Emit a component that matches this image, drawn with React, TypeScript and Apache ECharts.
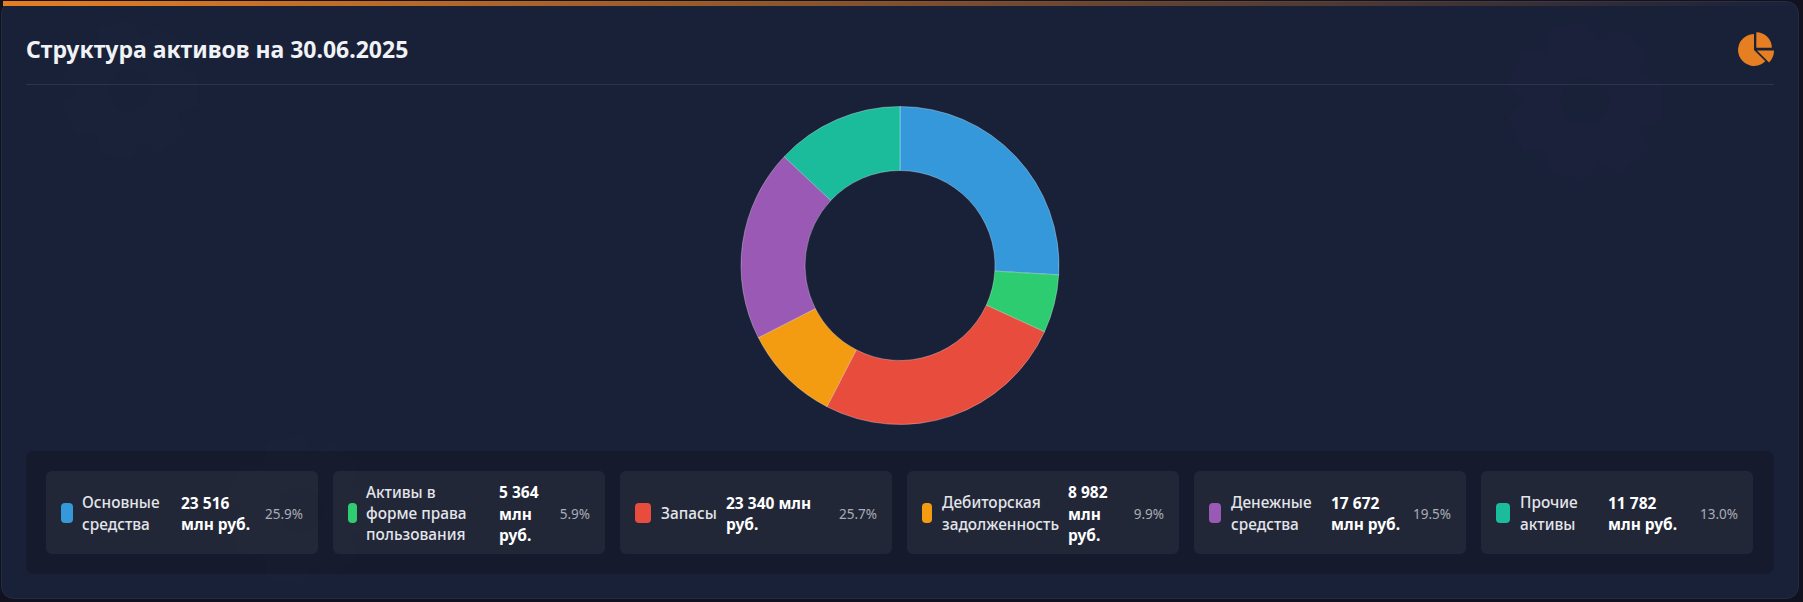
import React, { useEffect, useRef } from "react";
import * as echarts from "echarts";

const title = "Структура активов на 30.06.2025";
const categories = ["Основные средства", "Активы в форме права пользования", "Запасы", "Дебиторская задолженность", "Денежные средства", "Прочие активы"];
const values = [23516, 5364, 23340, 8982, 17672, 11782];
const colors = ["#3498db", "#2ecc71", "#e74c3c", "#f39c12", "#9b59b6", "#1abc9c"];
const labelLines = [["Основные", "средства"], ["Активы в", "форме права", "пользования"], ["Запасы"], ["Дебиторская", "задолженность"], ["Денежные", "средства"], ["Прочие", "активы"]];
const valueLines = [["23 516", "млн руб."], ["5 364", "млн", "руб."], ["23 340 млн", "руб."], ["8 982", "млн", "руб."], ["17 672", "млн руб."], ["11 782", "млн руб."]];
const percents = ["25.9%", "5.9%", "25.7%", "9.9%", "19.5%", "13.0%"];
const cardX = [46, 333, 620, 907, 1194, 1481];
const markerW = [12, 9, 16, 10, 12, 14];
const labelX = [82, 366, 661, 942, 1231, 1520];
const valueX = [181, 499, 726, 1068, 1331, 1608];
const pctX = [303, 590, 877, 1164, 1451, 1738];

const FONT = '"Noto Sans", "Open Sans", sans-serif';

const gearPath = (() => {
  const teeth = 7, ro = 100, ri = 76, hole = 30;
  let d = "";
  for (let i = 0; i < teeth; i++) {
    const a = (i / teeth) * Math.PI * 2;
    const s = (Math.PI * 2) / teeth;
    const pts: [number, number][] = [
      [ri, a - s * 0.5], [ro, a - s * 0.27], [ro, a + s * 0.27], [ri, a + s * 0.5],
    ];
    pts.forEach(([r, t], j) => {
      const x = 100 + r * Math.cos(t), y = 100 + r * Math.sin(t);
      d += `${i === 0 && j === 0 ? "M" : "L"}${x.toFixed(1)} ${y.toFixed(1)} `;
    });
  }
  d += `Z M${100 + hole} 100 A${hole} ${hole} 0 1 0 ${100 - hole} 100 A${hole} ${hole} 0 1 0 ${100 + hole} 100 Z`;
  return d;
})();
echarts.graphic.registerShape("gearMark", (echarts.graphic as any).extendPath(gearPath, {}));

export default function App() {
  const ref = useRef<HTMLDivElement>(null);
  useEffect(() => {
    const chart = echarts.init(ref.current!, undefined, { renderer: "svg" });
    const g: any[] = [];
    g.push({ type: "rect", z: 0, shape: { x: 0, y: 0, width: 1803, height: 602 }, style: { fill: "#12121f" } });
    g.push({ type: "rect", z: 1, shape: { x: 1.5, y: 1.5, width: 1797, height: 597, r: 12 }, style: { fill: "#192139", stroke: "#232c47", lineWidth: 1 } });
    g.push({ type: "gearMark", z: 2, x: 1505, y: 21, scaleX: 0.8, scaleY: 0.8, style: { fill: "#1b213a" } });
    g.push({ type: "gearMark", z: 2, x: 60, y: 20, scaleX: 0.7, scaleY: 0.7, style: { fill: "#192239" } });
    g.push({
      type: "rect", z: 3, shape: { x: 3, y: 1, width: 1796, height: 5 },
      style: { fill: new echarts.graphic.LinearGradient(0, 0, 1, 0, [{ offset: 0, color: "#e67e22" }, { offset: 1, color: "rgba(230,126,34,0)" }]) },
    });
    g.push({ type: "rect", z: 3, shape: { x: 26, y: 84, width: 1748, height: 1 }, style: { fill: "#2d3549" } });
    g.push({ type: "rect", z: 3, shape: { x: 26, y: 451, width: 1748, height: 123, r: 8 }, style: { fill: "#151a2d" } });
    categories.forEach((_, i) => {
      const x = cardX[i];
      g.push({ type: "rect", z: 4, shape: { x, y: 471, width: 272, height: 83, r: 6 }, style: { fill: "#222738" } });
      const mx = x + 15;
      g.push({ type: "rect", z: 5, shape: { x: mx, y: 503, width: markerW[i], height: 20, r: 4 }, style: { fill: colors[i] } });
      const lh = 21.3, cy = 513.5;
      labelLines[i].forEach((t, j) => {
        g.push({ type: "text", z: 6, x: labelX[i], y: cy + (j - (labelLines[i].length - 1) / 2) * lh,
          style: { text: t, font: `500 15.4px ${FONT}`, fill: "#e2e5ea", verticalAlign: "middle", align: "left" } });
      });
      valueLines[i].forEach((t, j) => {
        g.push({ type: "text", z: 6, x: valueX[i], y: cy + (j - (valueLines[i].length - 1) / 2) * lh,
          style: { text: t, font: `700 15.5px ${FONT}`, fill: "#ffffff", verticalAlign: "middle", align: "left" } });
      });
      g.push({ type: "text", z: 6, x: pctX[i], y: cy,
        style: { text: percents[i], font: `400 13.5px ${FONT}`, fill: "#a9adb6", verticalAlign: "middle", align: "right" } });
    });
    g.push({ type: "gearMark", z: 5, x: 225, y: 435, scaleX: 0.75, scaleY: 0.75, style: { fill: "rgba(255,255,255,0.008)" } });
    // header icon
    g.push({ type: "sector", z: 5, shape: { cx: 1754, cy: 50, r: 16, r0: 0, startAngle: Math.PI / 4, endAngle: -Math.PI / 2, clockwise: true }, style: { fill: "#e67e22" } });
    g.push({ type: "sector", z: 5, shape: { cx: 1756.3, cy: 47.7, r: 15.5, r0: 0, startAngle: -Math.PI / 2, endAngle: 0, clockwise: true }, style: { fill: "#e67e22" } });
    g.push({ type: "sector", z: 5, shape: { cx: 1757, cy: 50.5, r: 17, r0: 0, startAngle: 0, endAngle: Math.PI / 4, clockwise: true }, style: { fill: "#e67e22" } });

    chart.setOption({
      animation: false,
      backgroundColor: "transparent",
      title: { text: title, left: 26, top: 37, padding: 0, textStyle: { color: "#f0f2f5", fontFamily: FONT, fontWeight: 700, fontSize: 23 }, z: 10 },
      tooltip: { show: false },
      graphic: { elements: g },
      series: [{
        type: "pie", z: 6, center: [900, 265.5], radius: [95, 159], startAngle: 90, clockwise: true,
        label: { show: false }, labelLine: { show: false }, silent: true,
        itemStyle: { borderColor: "rgba(255,255,255,0.3)", borderWidth: 1 },
        data: categories.map((name, i) => ({ name, value: values[i], itemStyle: { color: colors[i] } })),
      }],
    });
    return () => chart.dispose();
  }, []);
  return <div ref={ref} style={{ position: "absolute", left: 0, top: 0, width: 1803, height: 602 }} />;
}
